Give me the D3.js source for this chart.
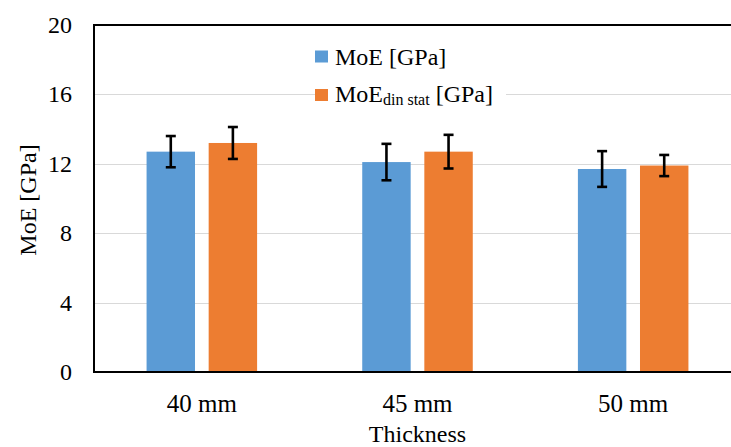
<!DOCTYPE html>
<html>
<head>
<meta charset="utf-8">
<script src="https://cdn.jsdelivr.net/npm/d3@7"></script>
<style>
  html, body { margin: 0; padding: 0; background: #fff; overflow: hidden; }
</style>
</head>
<body>
<div id="chart"></div>
<script>
const thickness = ["40 mm", "45 mm", "50 mm"];
const moe = [12.7, 12.1, 11.7];
const moeErr = [0.9, 1.05, 1.03];
const moeDin = [13.2, 12.7, 11.9];
const moeDinErr = [0.92, 0.97, 0.61];
const yTicks = [0, 4, 8, 12, 16, 20];
const seriesNames = ["moe", "din"];
const colors = { moe: "#5B9BD5", din: "#ED7D31" };

const width = 731, height = 447;
const plot = { left: 94, top: 25, right: 741, bottom: 372 };
const serif = "'Liberation Serif', 'Times New Roman', Times, 'DejaVu Serif', serif";

const svg = d3.select("#chart").append("svg")
  .attr("width", width)
  .attr("height", height)
  .attr("font-family", serif)
  .style("font-family", serif);

const y = d3.scaleLinear().domain([0, 20]).range([plot.bottom, plot.top]);
const x = d3.scaleBand().domain(thickness)
  .range([plot.left, plot.right])
  .paddingInner(0.4875).paddingOuter(0.24375);
const xs = d3.scaleBand().domain(seriesNames)
  .range([0, x.bandwidth()])
  .paddingInner(0.22).paddingOuter(0);

// gridlines
svg.append("g")
  .selectAll("line")
  .data(yTicks.filter(d => d > 0 && d < 20))
  .join("line")
  .attr("x1", plot.left).attr("x2", plot.right)
  .attr("y1", d => Math.round(y(d)) + 0.5).attr("y2", d => Math.round(y(d)) + 0.5)
  .attr("stroke", "#d9d9d9").attr("stroke-width", 1);

// y tick labels
svg.append("g")
  .selectAll("text")
  .data(yTicks)
  .join("text")
  .attr("x", 72).attr("y", d => y(d) + 8)
  .attr("text-anchor", "end")
  .attr("font-size", 24)
  .text(d => d);

const rows = thickness.map((t, i) => ({
  t,
  vals: [
    { key: "moe", v: moe[i], e: moeErr[i] },
    { key: "din", v: moeDin[i], e: moeDinErr[i] }
  ]
}));

const groups = svg.append("g")
  .selectAll("g")
  .data(rows)
  .join("g")
  .attr("transform", d => `translate(${x(d.t)},0)`);

groups.selectAll("rect")
  .data(d => d.vals)
  .join("rect")
  .attr("x", d => xs(d.key))
  .attr("y", d => y(d.v))
  .attr("width", xs.bandwidth())
  .attr("height", d => y(0) - y(d.v))
  .attr("fill", d => colors[d.key]);

// error bars
const eb = groups.selectAll("g.err")
  .data(d => d.vals)
  .join("g")
  .attr("class", "err")
  .attr("stroke", "#000")
  .attr("stroke-width", 2.6);
eb.append("line")
  .attr("x1", d => xs(d.key) + xs.bandwidth() / 2)
  .attr("x2", d => xs(d.key) + xs.bandwidth() / 2)
  .attr("y1", d => y(d.v + d.e)).attr("y2", d => y(d.v - d.e));
eb.append("line")
  .attr("x1", d => xs(d.key) + xs.bandwidth() / 2 - 5)
  .attr("x2", d => xs(d.key) + xs.bandwidth() / 2 + 5)
  .attr("y1", d => y(d.v + d.e)).attr("y2", d => y(d.v + d.e));
eb.append("line")
  .attr("x1", d => xs(d.key) + xs.bandwidth() / 2 - 5)
  .attr("x2", d => xs(d.key) + xs.bandwidth() / 2 + 5)
  .attr("y1", d => y(d.v - d.e)).attr("y2", d => y(d.v - d.e));

// frame
svg.append("path")
  .attr("d", `M${plot.right},${plot.top}H${plot.left}V${plot.bottom}H${plot.right}`)
  .attr("fill", "none").attr("stroke", "#000").attr("stroke-width", 2);

// x labels
svg.append("g")
  .selectAll("text")
  .data(thickness)
  .join("text")
  .attr("x", d => x(d) + x.bandwidth() / 2)
  .attr("y", 412)
  .attr("text-anchor", "middle")
  .attr("font-size", 25)
  .text(d => d);

svg.append("text")
  .attr("x", x(thickness[1]) + x.bandwidth() / 2)
  .attr("y", 442)
  .attr("text-anchor", "middle")
  .attr("font-size", 24)
  .text("Thickness");

svg.append("text")
  .attr("transform", "translate(36,200) rotate(-90)")
  .attr("text-anchor", "middle")
  .attr("font-size", 24)
  .text("MoE [GPa]");

// legend
const legend = svg.append("g");
legend.append("rect")
  .attr("x", 316).attr("y", 38).attr("width", 190).attr("height", 72)
  .attr("fill", "#fff");
legend.append("rect")
  .attr("x", 315).attr("y", 50.5).attr("width", 13).attr("height", 12)
  .attr("fill", colors.moe);
legend.append("text")
  .attr("x", 335).attr("y", 65)
  .attr("font-size", 24)
  .text("MoE [GPa]");
legend.append("rect")
  .attr("x", 315).attr("y", 89).attr("width", 13).attr("height", 12)
  .attr("fill", colors.din);
const t2 = legend.append("text")
  .attr("x", 335).attr("y", 102)
  .attr("font-size", 24);
t2.append("tspan").text("MoE");
t2.append("tspan").attr("font-size", 16).attr("dy", 3).text("din stat");
t2.append("tspan").attr("dy", -3).text(" [GPa]");
</script>
</body>
</html>
